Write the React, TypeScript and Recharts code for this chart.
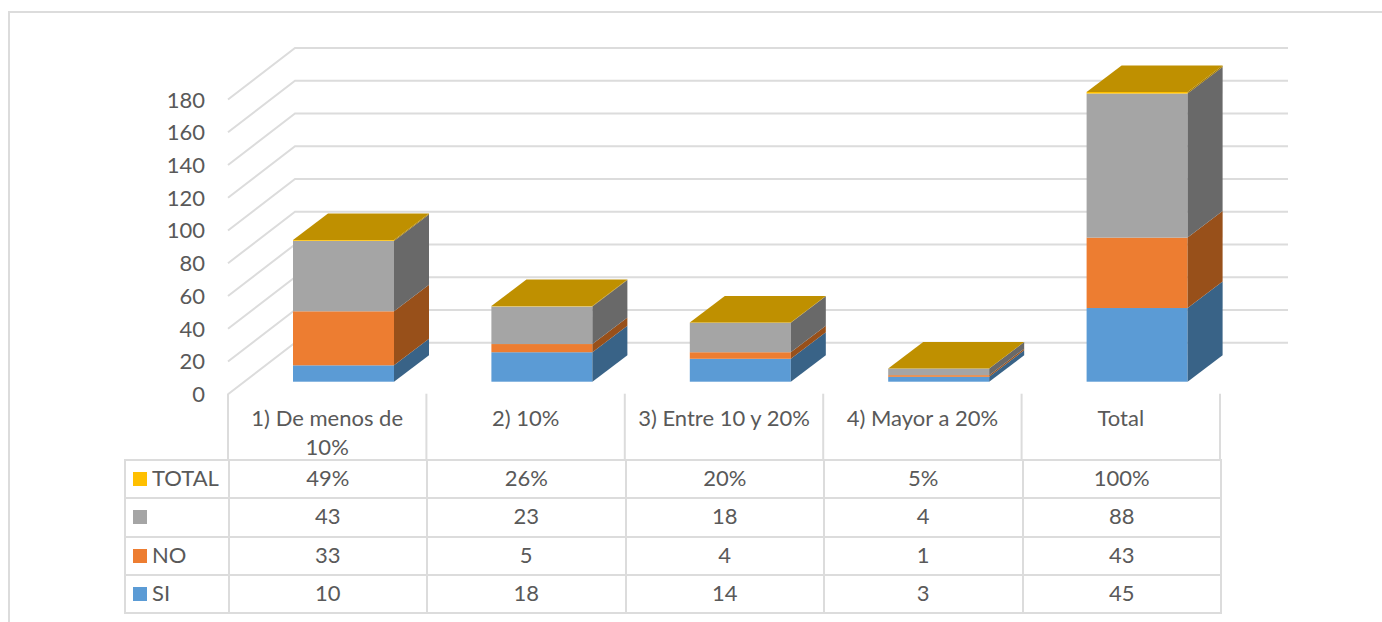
import { BarChart, Bar, XAxis, YAxis, CartesianGrid } from 'recharts';

const categories = ['1) De menos de 10%', '2) 10%', '3) Entre 10 y 20%', '4) Mayor a 20%', 'Total'];
const siValues = [10, 18, 14, 3, 45];
const noValues = [33, 5, 4, 1, 43];
const blankValues = [43, 23, 18, 4, 88];
const totalShare = [0.49, 0.26, 0.2, 0.05, 1];
const totalLabels = ['49%', '26%', '20%', '5%', '100%'];
const yTicks = [0, 20, 40, 60, 80, 100, 120, 140, 160, 180];

const chartData = categories.map((name, i) => ({
  name,
  si: siValues[i],
  no: noValues[i],
  blank: blankValues[i],
  total: totalShare[i],
}));

const tableRows = [
  { label: 'TOTAL', color: '#ffc000', cells: totalLabels },
  { label: '', color: '#a5a5a5', cells: blankValues.map(String) },
  { label: 'NO', color: '#ed7d31', cells: noValues.map(String) },
  { label: 'SI', color: '#5b9bd5', cells: siValues.map(String) },
];

const FONT = 'Lato, sans-serif';
const TEXT = '#595959';
const LINE = '#dcdcdc';
const DEPTH_X = 35;
const DEPTH_Y = 26.5;
const BAR_SHIFT = 16;

// 3D box for one stack segment, front face comes from the library's bar rectangle
function box(front: string, side: string, top?: string) {
  return (props: any) => {
    const { x, y, width, height } = props;
    const l = x + BAR_SHIFT;
    const r = l + width;
    const b = y + height;
    return (
      <g>
        <rect x={l} y={y} width={width} height={height} fill={front} />
        <polygon
          points={`${r},${y} ${r + DEPTH_X},${y - DEPTH_Y} ${r + DEPTH_X},${b - DEPTH_Y} ${r},${b}`}
          fill={side}
        />
        {top && (
          <polygon
            points={`${l},${y} ${r},${y} ${r + DEPTH_X},${y - DEPTH_Y} ${l + DEPTH_X},${y - DEPTH_Y}`}
            fill={top}
          />
        )}
      </g>
    );
  };
}

function WallLine(props: any) {
  const { y1 } = props;
  return (
    <polyline
      points={`228,${y1 + 12.5} 295,${y1 - 39} 1288,${y1 - 39}`}
      fill="none"
      stroke={LINE}
      strokeWidth={2}
    />
  );
}

function ValueTick(props: any) {
  const { x, y, payload } = props;
  return (
    <text x={x - 15} y={y + 20.5} textAnchor="end" fontFamily={FONT} fontSize={22} fill={TEXT}>
      {payload.value}
    </text>
  );
}

function CategoryTick(props: any) {
  const { x, y, payload, index } = props;
  const half = 99.2;
  const wrapped = index === 0 ? ['1) De menos de', '10%'] : [payload.value];
  const top = y + 4;
  return (
    <g>
      <line x1={x - half} y1={top} x2={x - half} y2={460} stroke={LINE} strokeWidth={2} />
      {index === categories.length - 1 && (
        <line x1={x + half} y1={top} x2={x + half} y2={460} stroke={LINE} strokeWidth={2} />
      )}
      <text textAnchor="middle" fontFamily={FONT} fontSize={22} fill={TEXT}>
        {wrapped.map((t, i) => (
          <tspan key={i} x={x} y={y + 36 + i * 29}>
            {t}
          </tspan>
        ))}
      </text>
    </g>
  );
}

const cellStyle = {
  border: `2px solid ${LINE}`,
  padding: '0 0 3px 0',
  textAlign: 'center' as const,
  height: 38.3,
  boxSizing: 'border-box' as const,
};

export default function App() {
  return (
    <div style={{ position: 'fixed', left: 0, top: 0, width: 1382, height: 622, background: '#fff', overflow: 'hidden' }}>
      <div style={{ position: 'absolute', left: 8, top: 11, width: 1400, height: 700, border: `2px solid ${LINE}` }} />
      <BarChart
        width={1382}
        height={622}
        data={chartData}
        barSize={101}
        margin={{ top: 87, right: 162, bottom: 160, left: 178 }}
        style={{ position: 'absolute', left: 0, top: 0 }}
      >
        <CartesianGrid vertical={false} horizontal={WallLine} />
        <XAxis dataKey="name" height={80.3} axisLine={false} tickLine={false} interval={0} tick={CategoryTick} />
        <YAxis width={50} domain={[0, 180]} ticks={yTicks} interval={0} axisLine={false} tickLine={false} tick={ValueTick} />
        <Bar dataKey="si" stackId="a" isAnimationActive={false} shape={box('#5b9bd5', '#396387')} />
        <Bar dataKey="no" stackId="a" isAnimationActive={false} shape={box('#ed7d31', '#98501a')} />
        <Bar dataKey="blank" stackId="a" isAnimationActive={false} shape={box('#a5a5a5', '#696969')} />
        <Bar dataKey="total" stackId="a" isAnimationActive={false} shape={box('#ffc000', '#a67c00', '#bf9000')} />
      </BarChart>
      <table
        style={{
          position: 'absolute',
          left: 124,
          top: 459,
          width: 1096,
          tableLayout: 'fixed',
          borderCollapse: 'collapse',
          fontFamily: FONT,
          fontSize: 22,
          color: TEXT,
        }}
      >
        <colgroup>
          <col style={{ width: 103.5 }} />
          {categories.map(c => (
            <col key={c} style={{ width: 198.5 }} />
          ))}
        </colgroup>
        <tbody>
          {tableRows.map(row => (
            <tr key={row.color}>
              <td style={{ ...cellStyle, textAlign: 'left' }}>
                <span style={{ display: 'inline-block', width: 14, height: 14, background: row.color, marginLeft: 7, marginRight: 5 }} />
                {row.label}
              </td>
              {row.cells.map((c, i) => (
                <td key={i} style={cellStyle}>
                  {c}
                </td>
              ))}
            </tr>
          ))}
        </tbody>
      </table>
    </div>
  );
}
